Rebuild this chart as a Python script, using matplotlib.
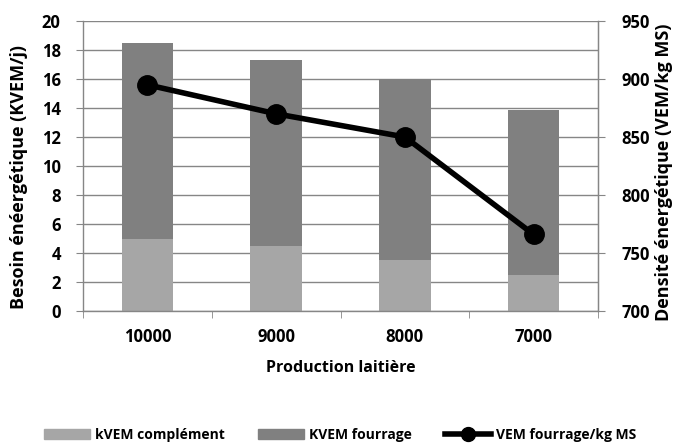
import matplotlib
matplotlib.use("Agg")
import matplotlib.pyplot as plt
import numpy as np
from matplotlib.lines import Line2D
from matplotlib.patches import Patch

categories = ["10000", "9000", "8000", "7000"]
kvem_complement = [5.0, 4.5, 3.5, 2.5]
kvem_fourrage = [13.5, 12.8, 12.5, 11.35]
vem_fourrage_kg_ms = [895, 870, 850, 766]

plt.rcParams['font.family'] = ['Open Sans', 'DejaVu Sans']
plt.rcParams['font.weight'] = 'bold'

c_comp = "#a6a6a6"
c_four = "#808080"
c_axis = "#868686"
fs_tick = 12
fs_ylab = 13
fs_xlab = 11.5

fig = plt.figure(figsize=(6.8, 4.43), dpi=100)
ax = fig.add_axes([83/680, 1 - 311/443, (598-83)/680, (311-21)/443])

x = np.arange(len(categories))
w = 0.4
ax.bar(x, kvem_complement, w, color=c_comp, zorder=2)
ax.bar(x, kvem_fourrage, w, bottom=kvem_complement, color=c_four, zorder=2)

ax.set_xlim(-0.5, len(categories) - 0.5)
ax.set_ylim(0, 20)
ax.set_yticks(range(0, 21, 2))
ax.yaxis.grid(True, color=c_axis, linewidth=1)
ax.set_axisbelow(True)
ax.set_xticks(x)
ax.set_xticklabels(categories)
ax.set_xticks(np.arange(-0.5, len(categories), 1), minor=True)
ax.tick_params(axis='x', which='major', length=0, pad=12, labelsize=fs_tick)
ax.tick_params(axis='x', which='minor', length=5, color=c_axis, direction='out')
ax.tick_params(axis='y', length=5, color=c_axis, direction='out', labelsize=fs_tick, pad=11)
ax.spines['top'].set_visible(False)
for s in ['left', 'bottom', 'right']:
    ax.spines[s].set_color(c_axis)
    ax.spines[s].set_linewidth(1)
ax.set_xlabel("Production laitière", fontsize=fs_xlab, fontweight='bold')
ax.xaxis.label.set_va('center')
ax.xaxis.set_label_coords(0.5, -(368 - 311) / 290)
ax.set_ylabel("Besoin énéergétique (KVEM/j)", fontsize=fs_ylab, fontweight='bold')
ax.yaxis.label.set_va('center')
ax.yaxis.set_label_coords((19 - 83) / 515, (311 - 177) / 290)

ax2 = ax.twinx()
ax2.plot(x, vem_fourrage_kg_ms, color='black', linewidth=4, marker='o', markersize=14, zorder=3)
ax2.set_ylim(700, 950)
ax2.set_yticks(range(700, 951, 50))
ax2.tick_params(axis='y', length=5, color=c_axis, direction='out', labelsize=fs_tick, pad=12)
ax2.spines['top'].set_visible(False)
ax2.spines['right'].set_color(c_axis)
ax2.spines['left'].set_visible(False)
ax2.spines['bottom'].set_visible(False)
ax2.set_ylabel("Densité énergétique (VEM/kg MS)", fontsize=fs_ylab, fontweight='bold')
ax2.yaxis.label.set_va('center')
ax2.yaxis.set_label_coords((664 - 83) / 515, (311 - 172) / 290)

handles = [
    Patch(color=c_comp, label="kVEM complément"),
    Patch(color=c_four, label="KVEM fourrage"),
    Line2D([0], [0], color='black', linewidth=4, marker='o', markersize=10, label="VEM fourrage/kg MS"),
]
fig.legend(handles=handles, loc='center', bbox_to_anchor=(0.5, 1 - 435/443), ncol=3,
           frameon=False, fontsize=10, handlelength=3.3, handleheight=0.7,
           columnspacing=2.4, handletextpad=0.35)

fig.savefig("out.png", dpi=100)
